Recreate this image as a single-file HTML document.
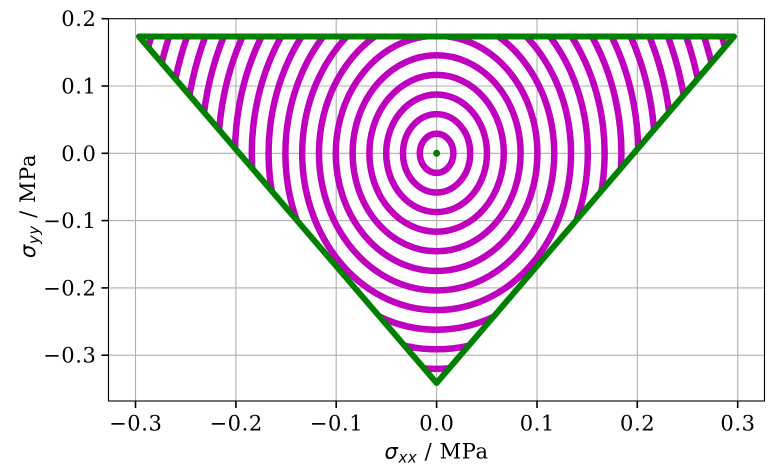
<!DOCTYPE html>
<html>
<head>
<meta charset="utf-8">
<style>
html,body{margin:0;padding:0;background:#fff;width:774px;height:474px;overflow:hidden;position:relative;}
svg{display:block;position:absolute;left:0;top:0;}
text{font-family:"DejaVu Serif","Liberation Serif",serif;fill:#000;}
.m{font-family:"DejaVu Sans","Liberation Sans",sans-serif;font-style:italic;}
.t{letter-spacing:0.6px;}
</style>
</head>
<body>
<svg width="774" height="474" viewBox="0 0 774 474" xmlns="http://www.w3.org/2000/svg">
<defs>
<clipPath id="tri"><polygon points="139,36.5 734,36.5 436.6,383"/></clipPath>
</defs>
<rect width="774" height="474" fill="#fff"/>
<!-- grid -->
<g stroke="#b0b0b0" stroke-width="1.1">
<line x1="135.5" y1="18.7" x2="135.5" y2="401"/>
<line x1="235.9" y1="18.7" x2="235.9" y2="401"/>
<line x1="336.2" y1="18.7" x2="336.2" y2="401"/>
<line x1="436.6" y1="18.7" x2="436.6" y2="401"/>
<line x1="537" y1="18.7" x2="537" y2="401"/>
<line x1="637.3" y1="18.7" x2="637.3" y2="401"/>
<line x1="737.7" y1="18.7" x2="737.7" y2="401"/>
<line x1="108.5" y1="86" x2="764.5" y2="86"/>
<line x1="108.5" y1="153.3" x2="764.5" y2="153.3"/>
<line x1="108.5" y1="220.6" x2="764.5" y2="220.6"/>
<line x1="108.5" y1="287.9" x2="764.5" y2="287.9"/>
<line x1="108.5" y1="355.2" x2="764.5" y2="355.2"/>
</g>
<!-- rings -->
<g clip-path="url(#tri)" fill="none" stroke="#bf00bf" stroke-width="6.5">
<ellipse cx="436.6" cy="153.3" rx="16.8" ry="19.6"/>
<ellipse cx="436.6" cy="153.3" rx="33.6" ry="39.2"/>
<ellipse cx="436.6" cy="153.3" rx="50.4" ry="58.8"/>
<ellipse cx="436.6" cy="153.3" rx="67.2" ry="78.4"/>
<ellipse cx="436.6" cy="153.3" rx="84" ry="98"/>
<ellipse cx="436.6" cy="153.3" rx="100.8" ry="117.6"/>
<path d="M385.0 30 A117.6 137.2 0 1 0 488.2 30"/>
<path d="M353.6 30 A134.4 156.8 0 1 0 519.6 30"/>
<path d="M328.5 30 A151.2 176.4 0 1 0 544.7 30"/>
<path d="M306.0 30 A168 196 0 1 0 567.2 30"/>
<path d="M285.0 30 A184.8 215.6 0 1 0 588.2 30"/>
<path d="M264.9 30 A201.6 235.2 0 1 0 608.3 30"/>
<path d="M245.5 30 A218.4 254.8 0 0 0 355.8 390 M517.4 390 A218.4 254.8 0 0 0 627.7 30"/>
<path d="M226.5 30 A235.2 274.4 0 0 0 317.6 390 M555.6 390 A235.2 274.4 0 0 0 646.7 30"/>
<path d="M207.8 30 A252 294 0 0 0 287.1 390 M586.1 390 A252 294 0 0 0 665.4 30"/>
<path d="M189.4 30 A268.8 313.6 0 0 0 260.3 390 M612.9 390 A268.8 313.6 0 0 0 683.8 30"/>
<path d="M171.3 30 A285.6 333.2 0 0 0 235.6 390 M637.6 390 A285.6 333.2 0 0 0 701.9 30"/>
<path d="M153.3 30 A302.4 352.8 0 0 0 212.3 390 M660.9 390 A302.4 352.8 0 0 0 719.9 30"/>
</g>
<!-- triangle boundary -->
<polygon points="139,36.5 734,36.5 436.6,383" fill="none" stroke="#008000" stroke-width="6" stroke-linejoin="round"/>
<circle cx="436.6" cy="153.3" r="3.5" fill="#008000"/>
<!-- spines -->
<rect x="108.5" y="18.7" width="656" height="382.3" fill="none" stroke="#000" stroke-width="1.1"/>
<!-- ticks -->
<g stroke="#000" stroke-width="1.6">
<line x1="135.5" y1="401" x2="135.5" y2="408"/>
<line x1="235.9" y1="401" x2="235.9" y2="408"/>
<line x1="336.2" y1="401" x2="336.2" y2="408"/>
<line x1="436.6" y1="401" x2="436.6" y2="408"/>
<line x1="537" y1="401" x2="537" y2="408"/>
<line x1="637.3" y1="401" x2="637.3" y2="408"/>
<line x1="737.7" y1="401" x2="737.7" y2="408"/>
<line x1="101.5" y1="18.7" x2="108.5" y2="18.7"/>
<line x1="101.5" y1="86" x2="108.5" y2="86"/>
<line x1="101.5" y1="153.3" x2="108.5" y2="153.3"/>
<line x1="101.5" y1="220.6" x2="108.5" y2="220.6"/>
<line x1="101.5" y1="287.9" x2="108.5" y2="287.9"/>
<line x1="101.5" y1="355.2" x2="108.5" y2="355.2"/>
</g>
<!-- x tick labels -->
<g font-size="21" text-anchor="middle" class="t">
<text x="135.8" y="430.5">−0.3</text>
<text x="236.2" y="430.5">−0.2</text>
<text x="336.5" y="430.5">−0.1</text>
<text x="436.9" y="430.5">0.0</text>
<text x="537.3" y="430.5">0.1</text>
<text x="637.6" y="430.5">0.2</text>
<text x="738" y="430.5">0.3</text>
</g>
<!-- y tick labels -->
<g font-size="21" text-anchor="end" class="t">
<text x="96.5" y="26.2">0.2</text>
<text x="96.5" y="93.5">0.1</text>
<text x="96.5" y="160.8">0.0</text>
<text x="96.5" y="228.1">−0.1</text>
<text x="96.5" y="295.4">−0.2</text>
<text x="96.5" y="362.7">−0.3</text>
</g>
<!-- axis labels -->
<text x="436.6" y="458.5" font-size="21" text-anchor="middle" class="t"><tspan class="m">σ</tspan><tspan class="m" font-size="15" dy="4">xx</tspan><tspan dy="-4"> / MPa</tspan></text>
<text transform="translate(35,206) rotate(-90)" font-size="21" text-anchor="middle" class="t"><tspan class="m">σ</tspan><tspan class="m" font-size="15" dy="4">yy</tspan><tspan dy="-4"> / MPa</tspan></text>
</svg>
</body>
</html>
